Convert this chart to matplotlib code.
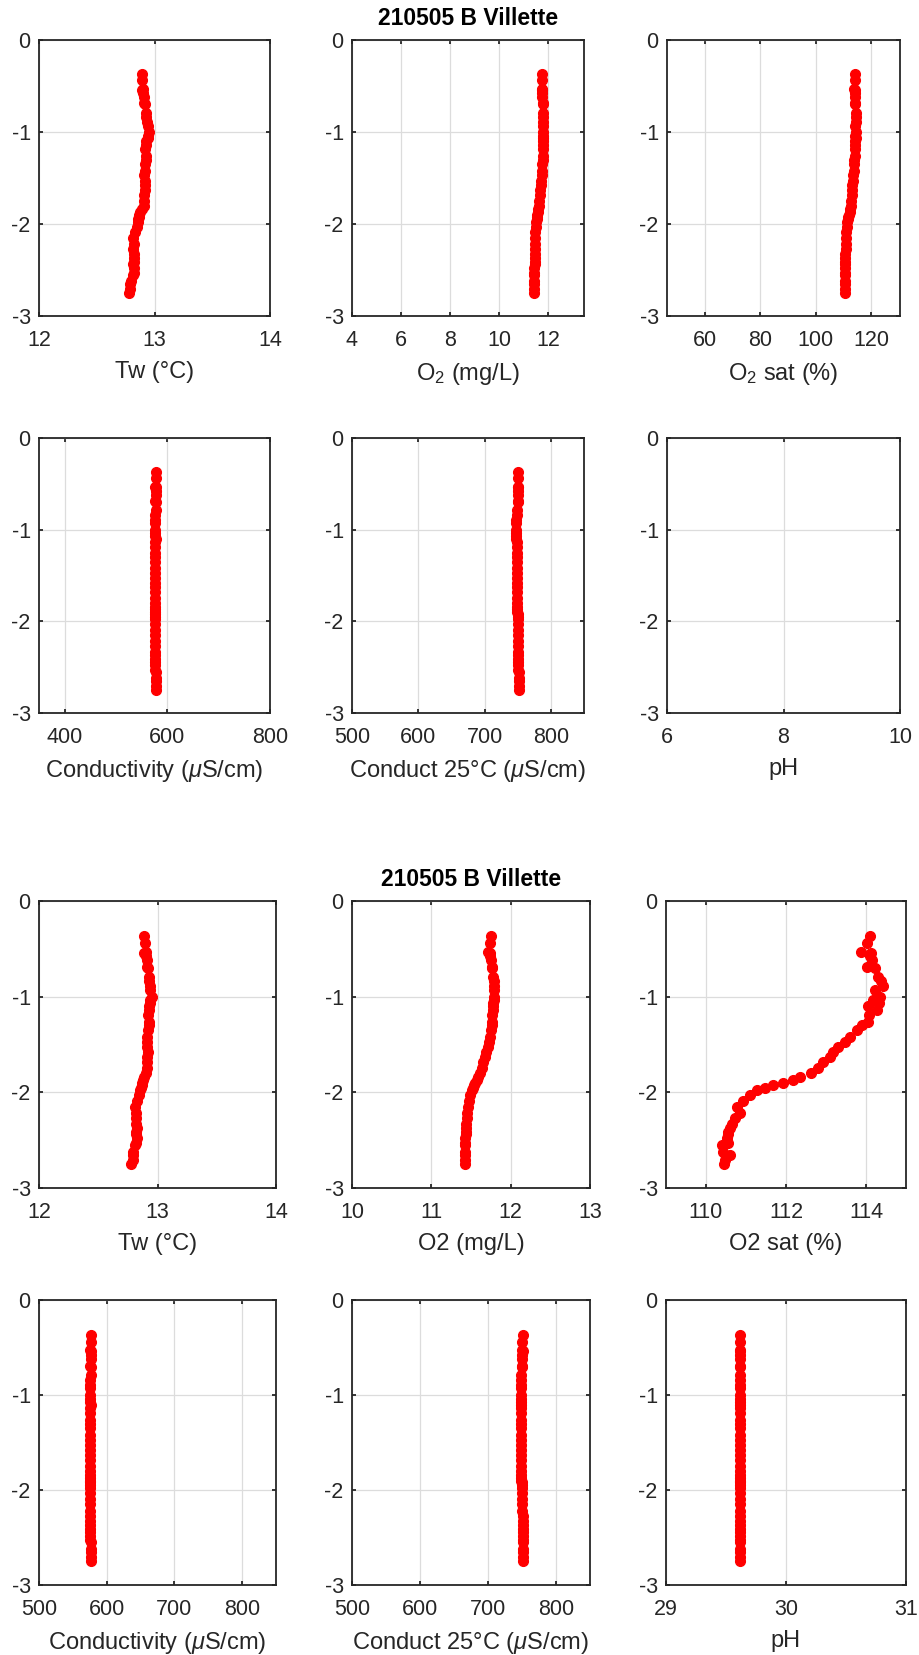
import numpy as np
import matplotlib
matplotlib.use('Agg')
import matplotlib.pyplot as plt

plt.rcParams['font.family'] = ['Liberation Sans', 'DejaVu Sans']
plt.rcParams['mathtext.fontset'] = 'custom'
plt.rcParams['mathtext.rm'] = 'Liberation Sans'
plt.rcParams['mathtext.it'] = 'Liberation Sans:italic'
plt.rcParams['axes.unicode_minus'] = False

title = '210505 B Villette'

# Depth of each sample (m)
depth = [-0.37, -0.44, -0.53, -0.54, -0.58, -0.62, -0.69, -0.70, -0.79, -0.84,
         -0.89, -0.93, -1.00, -1.04, -1.07, -1.10, -1.14, -1.19, -1.26, -1.30,
         -1.35, -1.42, -1.47, -1.53, -1.58, -1.63, -1.68, -1.75, -1.80, -1.84,
         -1.87, -1.90, -1.92, -1.95, -1.98, -2.03, -2.09, -2.15, -2.22, -2.27,
         -2.33, -2.37, -2.41, -2.44, -2.48, -2.53, -2.55, -2.62, -2.65, -2.71,
         -2.75]

tw = [12.89, 12.895, 12.90, 12.89, 12.90, 12.91, 12.91, 12.92, 12.925, 12.93,
      12.935, 12.94, 12.95, 12.94, 12.94, 12.93, 12.925, 12.92, 12.93, 12.925,
      12.92, 12.915, 12.91, 12.915, 12.92, 12.915, 12.91, 12.91, 12.905, 12.89,
      12.875, 12.87, 12.865, 12.86, 12.855, 12.845, 12.83, 12.81, 12.82, 12.815,
      12.82, 12.825, 12.82, 12.815, 12.825, 12.82, 12.81, 12.795, 12.79, 12.79,
      12.78]

o2 = [11.75, 11.74, 11.72, 11.74, 11.74, 11.75, 11.76, 11.77, 11.78, 11.785,
      11.79, 11.79, 11.79, 11.785, 11.78, 11.78, 11.775, 11.77, 11.765, 11.76,
      11.75, 11.74, 11.73, 11.71, 11.69, 11.675, 11.655, 11.635, 11.61, 11.59,
      11.57, 11.55, 11.54, 11.525, 11.51, 11.49, 11.47, 11.46, 11.45, 11.445,
      11.44, 11.44, 11.435, 11.435, 11.43, 11.43, 11.425, 11.425, 11.425, 11.42,
      11.42]

o2sat = [114.10, 114.02, 113.88, 114.12, 114.10, 114.14, 114.02, 114.23, 114.31, 114.37,
         114.42, 114.23, 114.35, 114.18, 114.33, 114.06, 114.27, 114.08, 114.06, 113.89,
         113.77, 113.60, 113.48, 113.31, 113.18, 113.10, 112.93, 112.81, 112.62, 112.35,
         112.18, 111.93, 111.68, 111.48, 111.27, 111.10, 110.93, 110.77, 110.85, 110.73,
         110.64, 110.60, 110.56, 110.55, 110.52, 110.56, 110.39, 110.43, 110.60, 110.48,
         110.45]

cond = [577, 577, 576, 577, 577, 577, 576, 577, 577, 576,
        576, 576, 576, 576, 576, 577, 576, 576, 576, 576,
        576, 576, 576, 576, 576, 576, 576, 576, 576, 576,
        576, 576, 576, 576, 576, 576, 576, 576, 576, 576,
        576, 576, 576, 576, 576, 576, 577, 577, 577, 577,
        577]

cond25 = [751, 750, 750, 751, 750, 750, 750, 750, 749, 749,
          748, 748, 748, 748, 748, 748, 749, 749, 749, 749,
          749, 749, 749, 749, 749, 749, 749, 749, 749, 749,
          749, 749, 750, 750, 750, 750, 750, 750, 750, 751,
          751, 751, 751, 751, 751, 751, 752, 752, 752, 752,
          752]

ph = [29.62, 29.62, 29.62, 29.62, 29.62, 29.62, 29.62, 29.62, 29.62, 29.62,
      29.62, 29.62, 29.62, 29.62, 29.62, 29.62, 29.62, 29.62, 29.62, 29.62,
      29.62, 29.62, 29.62, 29.62, 29.62, 29.62, 29.62, 29.62, 29.62, 29.62,
      29.62, 29.62, 29.62, 29.62, 29.62, 29.62, 29.62, 29.62, 29.62, 29.62,
      29.62, 29.62, 29.62, 29.62, 29.62, 29.62, 29.62, 29.62, 29.62, 29.62,
      29.62]

series = [tw, o2, o2sat, cond, cond25, ph]

labels_top = ['Tw (°C)', 'O$_2$ (mg/L)', 'O$_2$ sat (%)',
              'Conductivity ($\\mu$S/cm)', 'Conduct 25°C ($\\mu$S/cm)', 'pH']
labels_bot = ['Tw (°C)', 'O2 (mg/L)', 'O2 sat (%)',
              'Conductivity ($\\mu$S/cm)', 'Conduct 25°C ($\\mu$S/cm)', 'pH']

xlims_top = [(12, 14), (4, 13.45), (46.4, 130.3), (350, 800), (500, 850), (6, 10)]
xticks_top = [[12, 13, 14], [4, 6, 8, 10, 12], [60, 80, 100, 120],
              [400, 600, 800], [500, 600, 700, 800], [6, 8, 10]]
xlims_bot = [(12, 14), (10, 13), (109, 115), (500, 850), (500, 850), (29, 31)]
xticks_bot = [[12, 13, 14], [10, 11, 12, 13], [110, 112, 114],
              [500, 600, 700, 800], [500, 600, 700, 800], [29, 30, 31]]

W, H = 919, 1655
fig = plt.figure(figsize=(W / 100, H / 100), dpi=100)

# panel boxes in pixels: (left, right, top, bottom)
boxes_top = [(39, 270, 40, 316), (352, 584, 40, 316), (667, 900, 40, 316),
             (39, 270, 438, 713), (352, 584, 438, 713), (667, 900, 438, 713)]
boxes_bot = [(39, 276, 901, 1188), (352, 590, 901, 1188), (666, 906, 901, 1188),
             (39, 276, 1300, 1585), (352, 590, 1300, 1585), (666, 906, 1300, 1585)]

dark = '#262626'

for boxes, labels, xlims, xticks in [(boxes_top, labels_top, xlims_top, xticks_top),
                                     (boxes_bot, labels_bot, xlims_bot, xticks_bot)]:
    for i, (l, r, t, b) in enumerate(boxes):
        ax = fig.add_axes([l / W, 1 - b / H, (r - l) / W, (b - t) / H])
        ax.plot(series[i], depth, 'o', color='red', mec='red', ms=7, zorder=3)
        ax.set_xlim(xlims[i])
        ax.set_ylim(-3, 0)
        ax.set_xticks(xticks[i])
        ax.set_yticks([0, -1, -2, -3])
        ax.set_yticklabels(['0', '-1', '-2', '-3'])
        ax.grid(True, color='#dcdcdc', linewidth=0.9)
        ax.set_axisbelow(True)
        for s in ax.spines.values():
            s.set_color(dark)
            s.set_linewidth(1.3)
        ax.tick_params(direction='in', length=3, width=1.3, color=dark,
                       labelcolor=dark, labelsize=15.5, top=True, right=True)
        ax.tick_params(axis='x', pad=10)
        ax.tick_params(axis='y', pad=6)
        ax.set_xlabel(labels[i], fontsize=17, color=dark, labelpad=7)
        if i == 1:
            ax.set_title(title, fontsize=16.5, fontweight='bold', color='black', pad=11)

fig.savefig('out.png', dpi=100)
